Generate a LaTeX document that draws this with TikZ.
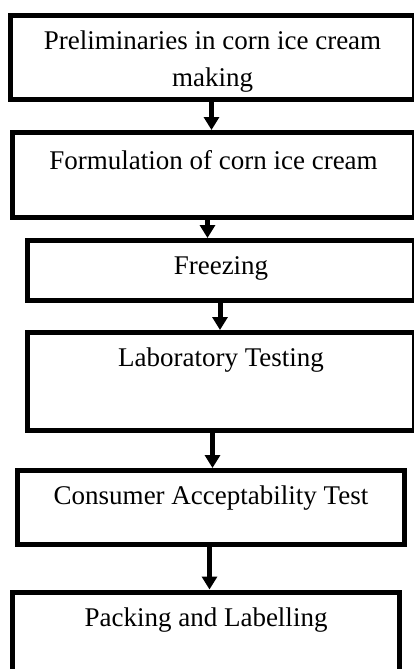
\documentclass[tikz,border=0pt]{standalone}
\usepackage{fontspec}
\setmainfont{Liberation Serif}
\usetikzlibrary{positioning,calc,arrows.meta}

\begin{document}
\begin{tikzpicture}[x=1pt,y=-1pt,
	stepbox/.style={rectangle, draw=black, line width=5pt, inner sep=0pt},
	steptext/.style={anchor=base, align=center, inner sep=0pt, font=\fontsize{27}{37}\selectfont},
	flowarrow/.style={line width=5pt, -{Triangle[width=15pt,length=13pt]}}]
	\useasboundingbox (0,0) rectangle (414,669);
	\clip (0,0) rectangle (414,669);

	% the six steps
	\node[stepbox, minimum width=404pt, minimum height=84pt] (prelim) at (212.5,57.5) {};
	\node[stepbox, minimum width=402pt, minimum height=85pt] (formul) at (213.5,175) {};
	\node[stepbox, minimum width=387pt, minimum height=60pt] (freeze) at (221,270.5) {};
	\node[stepbox, minimum width=387pt, minimum height=98pt] (labtest) at (221,381.5) {};
	\node[stepbox, minimum width=387pt, minimum height=74pt] (consumer) at (211,507.5) {};
	\node[stepbox, minimum width=387pt, minimum height=88pt] (packing) at (206,636) {};

	% base of a two-line node is its last line
	\begin{scope}
		\clip (0,0) rectangle (414,91);
		\node[steptext] (prelimtxt) at ($(prelim.north)+(0,73)$) {Preliminaries in corn ice cream\\making};
	\end{scope}
	\node[steptext] (formultxt) at ($(formul.north)+(0,39)$) {Formulation of corn ice cream};
	\node[steptext] (freezetxt) at ($(freeze.north)+(0,36.5)$) {Freezing};
	\node[steptext] (labtesttxt) at ($(labtest.north)+(0,36.5)$) {Laboratory Testing};
	\node[steptext] (consumertxt) at ($(consumer.north)+(0,36.5)$) {Consumer Acceptability Test};
	\node[steptext] (packingtxt) at ($(packing.north)+(0,37)$) {Packing and Labelling};

	% arrows between steps
	\draw[flowarrow] ([xshift=-1pt]prelim.south) -- ([xshift=-1pt]prelim.south |- formul.north);
	\draw[flowarrow] ([xshift=-6pt]formul.south) -- ([xshift=-6pt]formul.south |- freeze.north);
	\draw[flowarrow] ([xshift=-1pt]freeze.south) -- ([xshift=-1pt]freeze.south |- labtest.north);
	\draw[flowarrow] ([xshift=-8.5pt]labtest.south) -- ([xshift=-8.5pt]labtest.south |- consumer.north);
	\draw[flowarrow] ([xshift=-1.5pt]consumer.south) -- ([xshift=-1.5pt]consumer.south |- packing.north);
\end{tikzpicture}
\end{document}
